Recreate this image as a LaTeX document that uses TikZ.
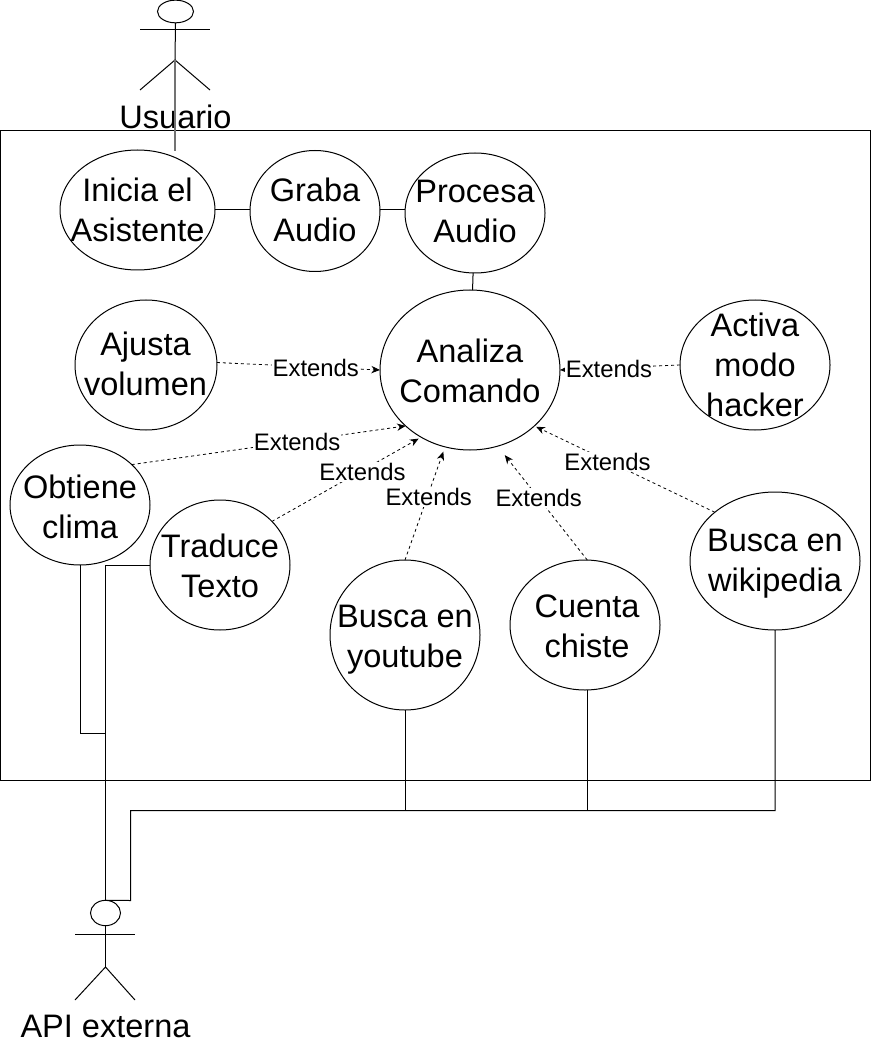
\documentclass[tikz,border=0pt]{standalone}
\usepackage{fontspec}
\setmainfont{Liberation Sans}
\usetikzlibrary{shapes.geometric,arrows.meta}
\tikzset{
  px/.style={x=0.75pt,y=-0.75pt},
  thin line/.style={line width=0.75pt,draw=black},
  usecase/.style={ellipse,thin line,fill=white,inner sep=0pt,outer sep=0pt},
  bigtext/.style={font=\fontsize{24.4}{30}\selectfont,align=center,inner sep=0pt},
  exttext/.style={font=\fontsize{17.9}{21}\selectfont,fill=white,inner sep=0.75pt,xshift=0.75pt,yshift=-0.75pt},
  extends/.style={line width=0.6pt,draw=black,dash pattern=on 2.25pt off 2.25pt,
    -{Stealth[length=6.5pt,width=5.5pt]}},
  conn/.style={thin line},
  actorhead/.style={ellipse,thin line,fill=white,inner sep=0pt,outer sep=0pt},
}
% name, x, y, rx, ry, text x, text y, text
\newcommand{\ucase}[8]{\node[usecase,minimum width=#4*1.5pt,minimum height=#5*1.5pt] (#1) at (#2,#3) {};
  \node[bigtext] (#1txt) at (#6,#7) {#8};}
\begin{document}
\begin{tikzpicture}[px]
\useasboundingbox (0,0) rectangle (872,1048);
\node[thin line,fill=white,inner sep=0pt,outer sep=0pt,minimum width=652.5pt,minimum height=487.5pt,anchor=north west] (sistema) at (0.5,130.5) {};

% actor Usuario
\node[actorhead,minimum width=27pt,minimum height=17pt] (usuario) at (175.5,11.5) {};
\coordinate (usHip) at (175,60);
\coordinate (usArmL) at (140,30);
\coordinate (usArmR) at (210,30);
\coordinate (usLegL) at (140,90);
\coordinate (usLegR) at (210,90);
\draw[conn] (usuario.south) -- (usHip);
\draw[conn] (usArmL) -- (usArmR);
\draw[conn] (usLegL) -- (usHip) -- (usLegR);
\node[bigtext] (usuarioTxt) at (175.5,117) {Usuario};
\coordinate (usEnd) at (175,151);
\draw[line width=1.2pt,draw=black!55] (usHip) -- (usEnd);

% casos de uso
\ucase{inicia}{137.5}{210}{77.5}{60}{137.5}{210}{Inicia el\\Asistente}
\ucase{graba}{315}{211}{65}{60.5}{315}{210}{Graba\\Audio}
\ucase{procesa}{475}{213}{70}{60}{475}{211}{Procesa\\Audio}
\ucase{analiza}{470}{370}{90}{80}{470}{371}{Analiza\\Comando}
\ucase{ajusta}{146}{365}{71}{65}{145.5}{364}{Ajusta\\volumen}
\ucase{activa}{755}{365}{75}{65}{755}{365}{Activa\\modo\\hacker}
\ucase{obtiene}{80}{505}{70}{60}{80}{507}{Obtiene\\clima}
\ucase{traduce}{220}{565}{70}{65}{220}{566}{Traduce\\Texto}
\ucase{youtube}{405}{635}{75}{75}{405}{640}{Busca en\\youtube}
\ucase{chiste}{585}{625}{75}{65}{587}{626}{Cuenta\\chiste}
\ucase{wiki}{775}{561}{85}{69}{775}{564}{Busca en\\wikipedia}

% asociaciones simples
\draw[conn] (inicia.east) -- (inicia.east -| graba.west);
\draw[conn] (graba.east |- inicia.east) -- (inicia.east -| procesa.west);
\draw[conn] (procesa) -- (analiza);

% extends
\draw[extends] (ajusta.2.4) -- node[exttext,pos=.6] {Extends} (analiza.west);
\draw[extends] (activa.west) -- node[exttext,pos=.6] {Extends} (analiza.east);
\draw[extends] (obtiene.38.9) -- node[exttext,pos=.6] {Extends} (analiza.221.2);
\draw[extends,shorten >=2.2pt] (traduce.40.9) -- node[exttext,pos=.6] {Extends} (analiza.234.5);
\draw[extends,shorten >=3.8pt] (youtube.north) -- node[exttext,pos=.566] {Extends} (analiza.252.7);
\draw[extends,shorten >=8.6pt] (chiste.88.5) -- node[exttext,pos=.554] {Extends} (analiza.-70.9);
\draw[extends,shorten >=1.5pt] (wiki.141.3) -- node[exttext,pos=.6] {Extends} (analiza.-41.7);

% actor API externa
\node[actorhead,minimum width=22.5pt,minimum height=19pt] (api) at (105.5,913) {};
\coordinate (apiHip) at (105.5,967);
\coordinate (apiArmL) at (75,934);
\coordinate (apiArmR) at (135,934);
\coordinate (apiLegL) at (75,1000);
\coordinate (apiLegR) at (135,1000);
\draw[conn] (api.south) -- (apiHip);
\draw[conn] (apiArmL) -- (apiArmR);
\draw[conn] (apiLegL) -- (apiHip) -- (apiLegR);
\node[bigtext] (apiTxt) at (105.5,1026) {API externa};

% conexiones a la API
\coordinate (busA) at (130.5,810.5);
\draw[conn] (traduce.west) -| (api.north);
\draw[conn] (obtiene.south) |- (105.5,733);
\draw[conn] (api.north) -- (130.5,900.5) -- (busA) -- (wiki.south |- busA) -- (wiki.south);
\draw[conn] (youtube.south) -- (youtube.south |- busA);
\draw[conn] (chiste.-88.5) -- (chiste.-88.5 |- busA);
\end{tikzpicture}
\end{document}
